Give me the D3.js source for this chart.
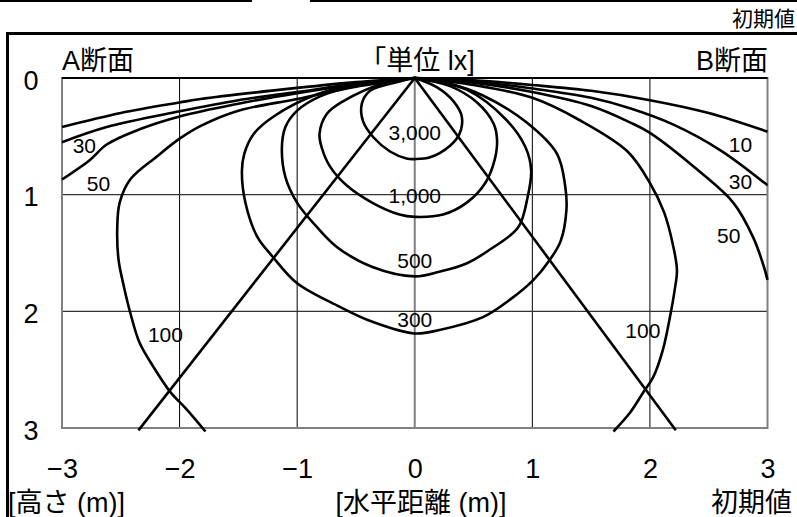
<!DOCTYPE html>
<html>
<head>
<meta charset="utf-8">
<script src="https://cdn.jsdelivr.net/npm/d3@7"></script>
<style>
body { margin: 0; background: #fff; }
text { font-family: "Liberation Sans", "Noto Sans CJK JP", sans-serif; fill: #000; }
</style>
</head>
<body>
<div id="graph"></div>
<script>
var xTicks = [-3, -2, -1, 0, 1, 2, 3];
var yTicks = [0, 1, 2, 3];

// isolux lines, [horizontal m, height m]; A side = negative x, B side = positive x
var lux10A = [[-3, 0.42], [-2.5, 0.30], [-2, 0.21], [-1.82, 0.18], [-1, 0.085], [-0.5, 0.035], [0, 0]];
var lux10B = [[0, 0], [0.5, 0.02], [1, 0.06], [1.5, 0.11], [2, 0.19], [2.5, 0.30], [3, 0.46]];
var lux30A = [[-3, 0.55], [-2.62, 0.42], [-2, 0.285], [-1.5, 0.19], [-1, 0.12], [-0.5, 0.05], [0, 0]];
var lux30B = [[0, 0], [0.5, 0.03], [1, 0.09], [1.5, 0.17], [1.83, 0.26], [2.2, 0.40], [2.6, 0.62], [3, 0.92]];
var lux50A = [[-3, 0.87], [-2.76, 0.70], [-2.62, 0.57], [-2.34, 0.44], [-2, 0.33], [-1.5, 0.22], [-1, 0.13], [-0.5, 0.055], [0, 0]];
var lux50B = [[0, 0], [0.5, 0.04], [1, 0.12], [1.5, 0.24], [1.83, 0.38], [2, 0.47], [2.42, 0.80], [2.71, 1.07], [2.88, 1.37], [2.97, 1.62], [3, 1.73]];
var lux100A = [[-1.78, 3.03], [-1.94, 2.84], [-2.08, 2.69], [-2.22, 2.48], [-2.34, 2.27], [-2.42, 2.01], [-2.48, 1.76], [-2.52, 1.55], [-2.53, 1.28], [-2.51, 1.07], [-2.42, 0.87], [-2.19, 0.67], [-2, 0.52], [-1.82, 0.41], [-1.5, 0.28], [-1, 0.18], [-0.5, 0.075], [0, 0]];
var lux100B = [[0, 0], [0.5, 0.06], [1, 0.17], [1.4, 0.36], [1.81, 0.63], [2, 0.90], [2.12, 1.15], [2.2, 1.45], [2.23, 1.65], [2.21, 1.82], [2.17, 2.05], [2.11, 2.33], [2.03, 2.56], [1.94, 2.70], [1.83, 2.87], [1.69, 3.03]];
var lux300 = [[0, 0], [-0.46, 0.05], [-0.83, 0.14], [-1.2, 0.33], [-1.37, 0.48], [-1.45, 0.65], [-1.47, 0.8], [-1.44, 1.07], [-1.34, 1.36], [-1.21, 1.53], [-1, 1.76], [-0.64, 1.96], [-0.36, 2.09], [0, 2.19], [0.21, 2.16], [0.58, 2.05], [0.81, 1.9], [1.01, 1.73], [1.14, 1.57], [1.24, 1.4], [1.29, 1.13], [1.28, 0.93], [1.21, 0.65], [0.95, 0.38], [0.58, 0.15], [0.3, 0.05], [0, 0]];
var lux500 = [[0, 0], [-0.55, 0.08], [-0.81, 0.16], [-1, 0.28], [-1.1, 0.42], [-1.13, 0.6], [-1.1, 0.85], [-1, 1.07], [-0.83, 1.28], [-0.66, 1.45], [-0.36, 1.62], [0, 1.7], [0.21, 1.66], [0.44, 1.59], [0.64, 1.47], [0.88, 1.28], [0.96, 1.02], [0.99, 0.79], [0.94, 0.59], [0.78, 0.36], [0.44, 0.1], [0, 0]];
var lux1000 = [[0, 0], [-0.25, 0.04], [-0.61, 0.2], [-0.75, 0.31], [-0.81, 0.48], [-0.79, 0.6], [-0.72, 0.76], [-0.58, 0.92], [-0.36, 1.07], [-0.13, 1.17], [0, 1.19], [0.24, 1.17], [0.44, 1.07], [0.6, 0.9], [0.68, 0.7], [0.7, 0.53], [0.67, 0.39], [0.53, 0.21], [0.3, 0.07], [0, 0]];
var lux3000 = [[0, 0], [-0.13, 0.03], [-0.38, 0.11], [-0.45, 0.22], [-0.44, 0.37], [-0.35, 0.51], [-0.21, 0.63], [-0.07, 0.69], [0, 0.695], [0.13, 0.68], [0.3, 0.58], [0.38, 0.48], [0.4, 0.33], [0.33, 0.2], [0.19, 0.08], [0, 0]];

// beam cut-off lines
var beamA = [[0, 0], [-2.35, 3.02]];
var beamB = [[0, 0], [2.22, 3.02]];

var labelText = ["3,000", "1,000", "500", "300", "100", "100", "30", "50", "10", "30", "50"];
var labelX = [0, 0, 0, 0, -2.12, 1.94, -2.81, -2.69, 2.77, 2.77, 2.67];
var labelY = [0.467, 1.007, 1.564, 2.074, 2.198, 2.168, 0.578, 0.904, 0.57, 0.883, 1.354];

var width = 797, height = 517;
var plotL = 62, plotR = 767.5, plotT = 78, plotB = 428;

var x = d3.scaleLinear().domain([-3, 3]).range([plotL, plotR]);
var y = d3.scaleLinear().domain([0, 3]).range([plotT, plotB]);

var svg = d3.select("#graph").append("svg")
    .attr("width", width)
    .attr("height", height);

// outer frame bits
svg.append("path")
    .attr("d", "M7.5,517V33.5H797")
    .attr("fill", "none").attr("stroke", "#000").attr("stroke-width", 3);
svg.append("path")
    .attr("d", "M0,1H252M310,1H797")
    .attr("stroke", "#000").attr("stroke-width", 2);

// grid
svg.append("g")
    .selectAll("line").data(xTicks.slice(1, -1)).enter().append("line")
    .attr("x1", function(d) { return x(d); }).attr("x2", function(d) { return x(d); })
    .attr("y1", plotT).attr("y2", plotB)
    .attr("stroke", function(d) { return d === 0 ? "#808080" : "#000"; })
    .attr("stroke-width", function(d) { return d === 0 ? 2 : 1; });
svg.append("g")
    .selectAll("line").data(yTicks.slice(1, -1)).enter().append("line")
    .attr("x1", plotL).attr("x2", plotR)
    .attr("y1", function(d) { return y(d); }).attr("y2", function(d) { return y(d); })
    .attr("stroke", "#333").attr("stroke-width", 1.2);

svg.append("rect")
    .attr("x", plotL).attr("y", plotT)
    .attr("width", plotR - plotL).attr("height", plotB - plotT)
    .attr("fill", "none").attr("stroke", "#808080").attr("stroke-width", 2);
svg.append("line")
    .attr("x1", plotL).attr("x2", plotR).attr("y1", plotT).attr("y2", plotT)
    .attr("stroke", "#000").attr("stroke-width", 2);

// axes (labels only)
var xAxis = svg.append("g")
    .attr("transform", "translate(0,478)")
    .call(d3.axisBottom(x).tickValues(xTicks).tickSize(0).tickPadding(0)
        .tickFormat(function(d) { return d < 0 ? "\u2212" + Math.abs(d) : d; }));
xAxis.select(".domain").remove();
xAxis.selectAll("text").attr("y", 0).attr("dy", 0).attr("font-size", 27);

var yAxis = svg.append("g")
    .attr("transform", "translate(31,0)")
    .call(d3.axisLeft(y).tickValues(yTicks).tickSize(0).tickPadding(0).tickFormat(d3.format("d")));
yAxis.select(".domain").remove();
yAxis.selectAll("text").attr("x", 0).attr("dy", 11)
    .attr("text-anchor", "middle").attr("font-size", 27);

var line = d3.line()
    .x(function(d) { return x(d[0]); })
    .y(function(d) { return y(d[1]); })
    .curve(d3.curveCatmullRom.alpha(0.5));

var contours = [lux10A, lux10B, lux30A, lux30B, lux50A, lux50B, lux100A, lux100B, lux300, lux500, lux1000, lux3000];
svg.append("g").selectAll("path")
    .data(contours).enter().append("path")
    .attr("d", line)
    .attr("fill", "none").attr("stroke", "#000").attr("stroke-width", 2.6)
    .attr("stroke-linejoin", "round");

var straight = d3.line()
    .x(function(d) { return x(d[0]); })
    .y(function(d) { return y(d[1]); });
svg.append("g").selectAll("path")
    .data([beamA, beamB]).enter().append("path")
    .attr("d", straight)
    .attr("fill", "none").attr("stroke", "#000").attr("stroke-width", 2.6);

svg.append("g").selectAll("text")
    .data(labelText).enter().append("text")
    .attr("x", function(d, i) { return x(labelX[i]); })
    .attr("y", function(d, i) { return y(labelY[i]); })
    .attr("dy", 7.5)
    .attr("text-anchor", "middle")
    .attr("font-size", 21)
    .text(function(d) { return d; });

// titles
svg.append("text").attr("x", 62).attr("y", 70).attr("font-size", 27).text("A断面");
svg.append("text").attr("x", 417).attr("y", 70).attr("font-size", 27)
    .attr("text-anchor", "middle").text("「単位 lx]");
svg.append("text").attr("x", 768).attr("y", 70).attr("font-size", 27)
    .attr("text-anchor", "end").text("B断面");
svg.append("text").attr("x", 732).attr("y", 26).attr("font-size", 21).text("初期値");
svg.append("text").attr("x", 8).attr("y", 512).attr("font-size", 27).text("[高さ (m)]");
svg.append("text").attr("x", 421).attr("y", 512).attr("font-size", 27)
    .attr("text-anchor", "middle").text("[水平距離 (m)]");
svg.append("text").attr("x", 792).attr("y", 512).attr("font-size", 27)
    .attr("text-anchor", "end").text("初期値");
</script>
</body>
</html>
